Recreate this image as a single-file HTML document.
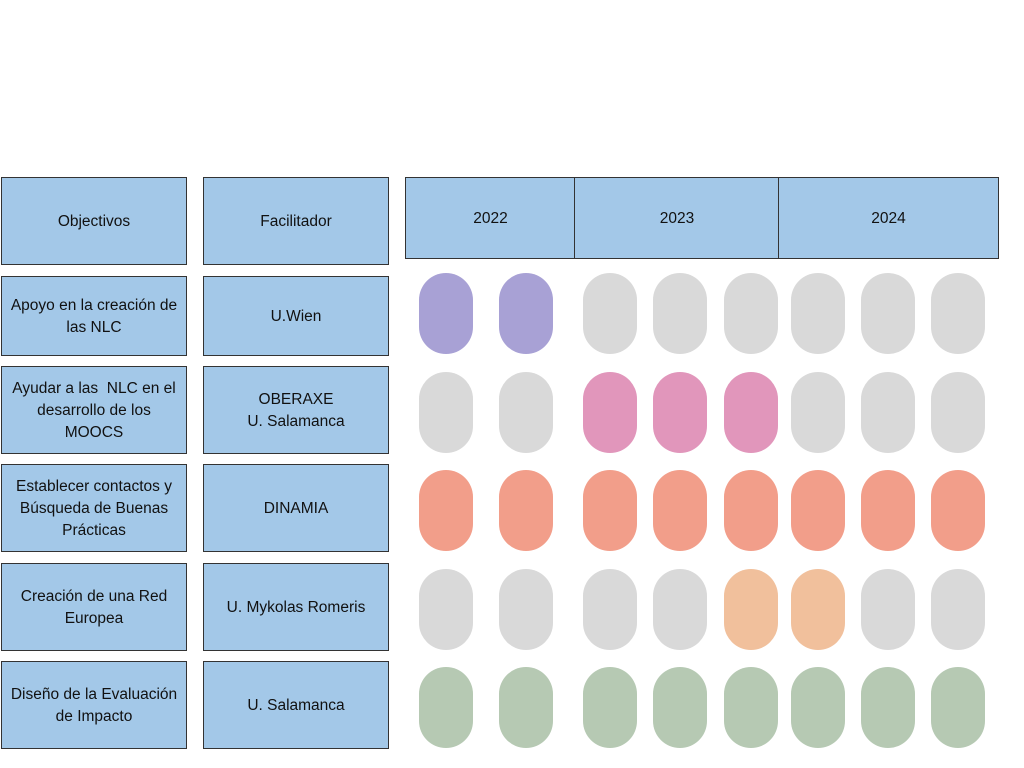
<!DOCTYPE html>
<html><head><meta charset="utf-8"><style>
body{margin:0;width:1024px;height:768px;background:#fff;position:relative;overflow:hidden;font-family:"Liberation Sans",sans-serif;}
.b{position:absolute;background:#a3c8e8;border:1.5px solid #333;box-sizing:border-box;display:flex;align-items:center;justify-content:center;text-align:center;font-size:15.5px;line-height:22px;color:#111;padding-top:2px;}
.p{position:absolute;width:54px;border-radius:27px;}
</style></head><body>
<div class="b" style="left:1px;top:177px;width:186px;height:88px">Objectivos</div>
<div class="b" style="left:203px;top:177px;width:186px;height:88px">Facilitador</div>
<div class="b" style="left:405px;top:177px;width:170px;height:82px;border-right:none">2022</div>
<div class="b" style="left:574px;top:177px;width:205px;height:82px;border-right:none">2023</div>
<div class="b" style="left:778px;top:177px;width:221px;height:82px">2024</div>

<div class="b" style="left:1px;top:276px;width:186px;height:80px;white-space:nowrap">Apoyo en la creación de<br>las NLC</div>
<div class="b" style="left:203px;top:276px;width:186px;height:80px">U.Wien</div>
<div class="b" style="left:1px;top:366px;width:186px;height:88px">Ayudar a las&nbsp; NLC en el<br>desarrollo de los<br>MOOCS</div>
<div class="b" style="left:203px;top:366px;width:186px;height:88px">OBERAXE<br>U. Salamanca</div>
<div class="b" style="left:1px;top:464px;width:186px;height:88px">Establecer contactos y<br>Búsqueda de Buenas<br>Prácticas</div>
<div class="b" style="left:203px;top:464px;width:186px;height:88px">DINAMIA</div>
<div class="b" style="left:1px;top:563px;width:186px;height:88px">Creación de una Red<br>Europea</div>
<div class="b" style="left:203px;top:563px;width:186px;height:88px">U. Mykolas Romeris</div>
<div class="b" style="left:1px;top:661px;width:186px;height:88px">Diseño de la Evaluación<br>de Impacto</div>
<div class="b" style="left:203px;top:661px;width:186px;height:88px">U. Salamanca</div>

<div id="pills"></div>
<script>
var xs=[419,499,583,653,724,791,861,931],ys=[273,372,470,569,667];
var G='#d9d9d9',P='#a8a1d5',K='#e196bb',S='#f29e8a',O='#f1c09c',N='#b6c9b3';
var c=[[P,P,G,G,G,G,G,G],[G,G,K,K,K,G,G,G],[S,S,S,S,S,S,S,S],[G,G,G,G,O,O,G,G],[N,N,N,N,N,N,N,N]];
var h='';for(var r=0;r<5;r++)for(var i=0;i<8;i++)h+='<div class="p" style="left:'+xs[i]+'px;top:'+ys[r]+'px;height:81px;background:'+c[r][i]+'"></div>';
document.getElementById('pills').innerHTML=h;
</script>
</body></html>
